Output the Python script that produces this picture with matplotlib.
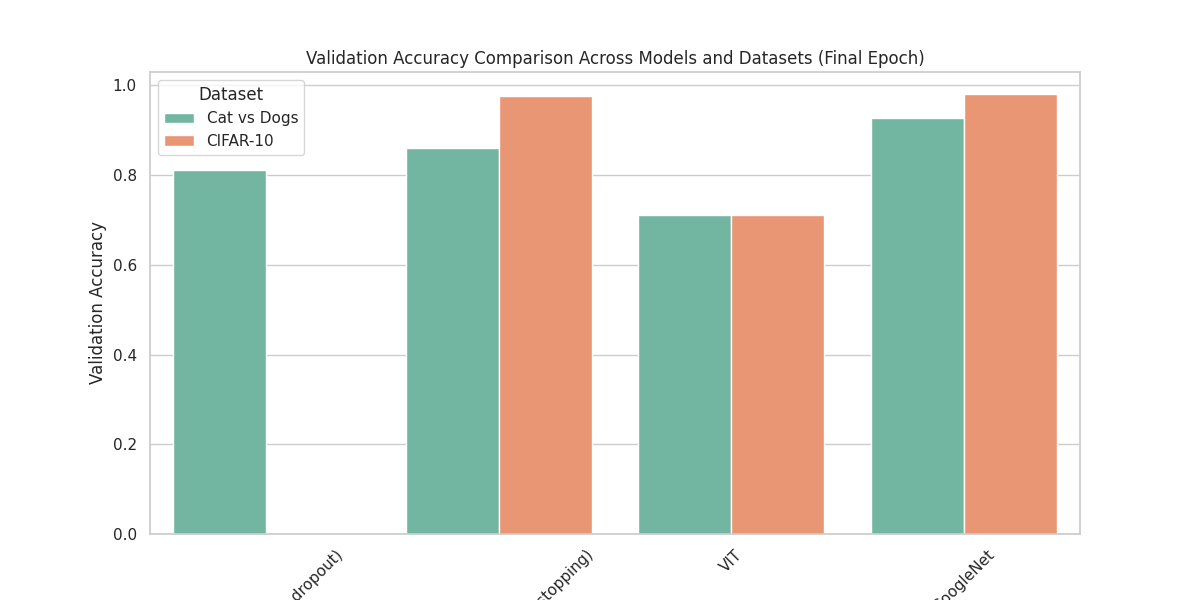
import numpy as np
import pandas as pd
import matplotlib
matplotlib.use("Agg")
import matplotlib.pyplot as plt
import seaborn as sns

models = ["Custom CNN (with dropout)", "Custom CNN (with early stopping)", "VIT", "GoogleNet"]
cat_dogs = [0.811, 0.861, 0.711, 0.928]
cifar10 = [np.nan, 0.977, 0.711, 0.981]
datasets = ["Cat vs Dogs", "CIFAR-10"]

rows = []
for m, a, b in zip(models, cat_dogs, cifar10):
    for ds, v in zip(datasets, [a, b]):
        if not np.isnan(v):
            rows.append({"Model": m, "Dataset": ds, "Accuracy": v})
df = pd.DataFrame(rows)

sns.set_theme(style="whitegrid")
fig = plt.figure(figsize=(12, 6))
ax = sns.barplot(data=df, x="Model", y="Accuracy", hue="Dataset",
                 order=models, hue_order=datasets, palette="Set2")
ax.set_title("Validation Accuracy Comparison Across Models and Datasets (Final Epoch)")
ax.set_xlabel("")
ax.set_ylabel("Validation Accuracy")
plt.xticks(rotation=45)
ax.legend(title="Dataset", loc="upper left")
plt.savefig("out.png", dpi=100)
